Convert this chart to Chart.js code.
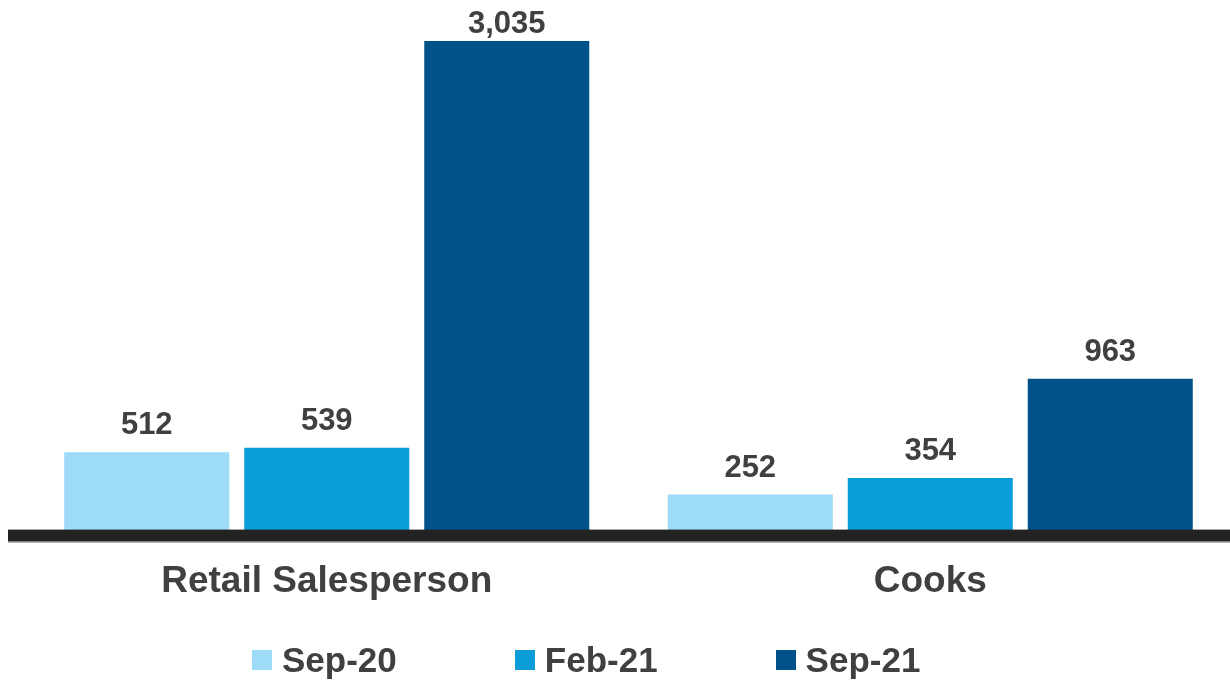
<!DOCTYPE html>
<html>
<head>
<meta charset="utf-8">
<script src="https://cdn.jsdelivr.net/npm/chart.js@4/dist/chart.umd.min.js"></script>
<style>
  html, body { margin: 0; padding: 0; background: #fff; overflow: hidden; width: 1230px; height: 680px; }
  #wrap { position: relative; width: 1230px; height: 680px; overflow: hidden; }
  canvas { position: absolute; left: 0; top: 0; }
  #legend { position: absolute; left: 252px; top: 640px; display: flex; gap: 118px;
            font-family: "Liberation Sans", Arial, sans-serif; font-weight: bold; font-size: 35px;
            color: #404040; line-height: 40px; }
  .item { display: flex; align-items: center; white-space: nowrap; }
  .box { width: 20px; height: 20px; margin-right: 10px; }
</style>
</head>
<body>
<div id="wrap">
  <canvas id="c" width="1232" height="680" style="width:1232px;height:680px"></canvas>
  <div id="legend"></div>
</div>
<script>
const categories = ["Retail Salesperson", "Cooks"];
const seriesNames = ["Sep-20", "Feb-21", "Sep-21"];
const sep20 = [512, 252];
const feb21 = [539, 354];
const sep21 = [3035, 963];
const colors = ["#9DDBF8", "#0B9DD9", "#005289"];

const FONT = '"Liberation Sans", Arial, sans-serif';
const TEXT = '#404040';

const seriesValues = [sep20, feb21, sep21];

const zeroLine = {
  id: 'zeroLine',
  afterDatasetsDraw(chart) {
    const ctx = chart.ctx;
    const y = chart.scales.y.getPixelForValue(0);
    ctx.save();
    ctx.fillStyle = '#222222';
    ctx.fillRect(8, y - 6, 1222, 12);
    ctx.fillStyle = '#8a8a8a';
    ctx.fillRect(8, y + 6, 1222, 1);
    ctx.restore();
  }
};

const valueLabels = {
  id: 'valueLabels',
  afterDatasetsDraw(chart) {
    const ctx = chart.ctx;
    ctx.save();
    ctx.font = 'bold 31px ' + FONT;
    ctx.fillStyle = TEXT;
    ctx.textAlign = 'center';
    ctx.textBaseline = 'alphabetic';
    const minY = chart.chartArea.top + 19;
    chart.data.datasets.forEach((ds, i) => {
      const meta = chart.getDatasetMeta(i);
      meta.data.forEach((bar, j) => {
        const v = ds.data[j];
        const y = Math.max(bar.y - 18, minY);
        ctx.fillText(v.toLocaleString('en-US'), bar.x, y);
      });
    });
    ctx.restore();
  }
};

new Chart(document.getElementById('c'), {
  type: 'bar',
  data: {
    labels: categories,
    datasets: seriesNames.map((name, i) => ({
      label: name,
      data: seriesValues[i],
      backgroundColor: colors[i],
      borderWidth: 0,
      categoryPercentage: 0.8948,
      barPercentage: 0.9167
    }))
  },
  options: {
    responsive: false,
    animation: false,
    layout: { padding: { top: 14, left: 25, right: 0, bottom: 52 } },
    plugins: {
      legend: { display: false },
      tooltip: { enabled: false }
    },
    scales: {
      x: {
        grid: { display: false, drawTicks: false },
        border: { display: false },
        ticks: {
          color: TEXT,
          padding: 24,
          font: { family: FONT, size: 37, weight: 'bold' },
          maxRotation: 0
        }
      },
      y: {
        display: false,
        min: 0,
        max: 3200
      }
    }
  },
  plugins: [zeroLine, valueLabels]
});

const legend = document.getElementById('legend');
seriesNames.forEach((name, i) => {
  const item = document.createElement('div');
  item.className = 'item';
  const box = document.createElement('span');
  box.className = 'box';
  box.style.background = colors[i];
  const txt = document.createElement('span');
  txt.textContent = name;
  item.appendChild(box);
  item.appendChild(txt);
  legend.appendChild(item);
});
</script>
</body>
</html>
